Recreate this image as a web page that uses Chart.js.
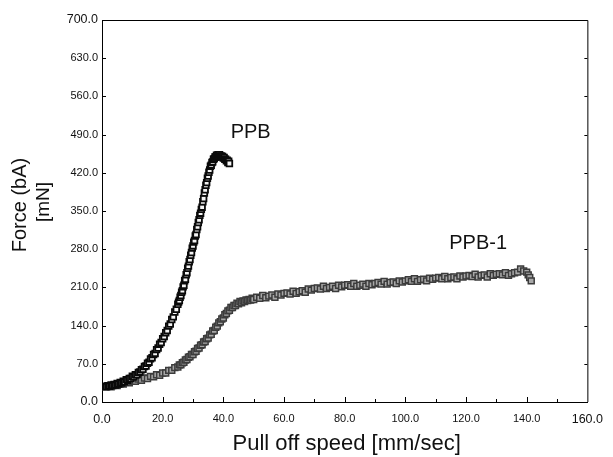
<!DOCTYPE html>
<html>
<head>
<meta charset="utf-8">
<style>
html,body{margin:0;padding:0;background:#fff;}
canvas{display:block;}
</style>
<script src="https://cdn.jsdelivr.net/npm/chart.js@4/dist/chart.umd.min.js"></script>
</head>
<body>
<canvas id="c" width="613" height="457"></canvas>
<script>
// ---- data ----
const xTickValues = [0, 20, 40, 60, 80, 100, 120, 140, 160];
const yTickValues = [0, 70, 140, 210, 280, 350, 420, 490, 560, 630, 700];
const seriesNames = ['PPB', 'PPB-1'];
const xTitle = 'Pull off speed [mm/sec]';
const yTitleLines = ['Force (bA)', '[mN]'];

const ppbSpeed = [
 1.0,1.5,2.0,2.5,3.0,3.5,4.0,4.5,5.0,5.5,6.0,6.5,7.0,7.5,8.0,8.5,9.0,9.5,10.0,10.5,
 11.0,11.5,12.0,12.5,13.0,13.5,14.0,14.5,15.0,15.5,16.0,16.5,17.0,17.5,18.0,18.5,19.0,19.5,20.0,20.5,
 21.0,21.5,22.0,22.5,23.0,23.5,24.0,24.5,25.0,
 25.25,25.5,25.75,26.0,26.25,26.5,26.75,27.0,27.25,27.5,27.75,28.0,28.25,28.5,28.75,29.0,29.25,29.5,29.75,30.0,
 30.25,30.5,30.75,31.0,31.25,31.5,31.75,32.0,32.25,32.5,32.75,33.0,33.25,33.5,33.75,34.0,34.25,34.5,34.75,35.0,
 35.25,35.5,35.75,36.0,36.25,36.5,36.75,37.0,37.25,37.5,37.75,38.0,
 38.25,38.5,38.75,39.0,39.25,39.5,39.75,40.0,40.25,40.5,40.75,41.0,41.25,41.5,41.75,42.0
];
const ppbForce = [
 29,28,30,29,31,30,32,31,34,33,36,35,38,37,41,40,43,43,47,46,
 50,50,54,55,59,60,65,66,71,73,79,81,87,89,96,99,106,109,116,120,
 127,131,139,143,151,156,165,170,179,
 183,186,192,195,201,204,211,214,222,225,233,237,245,249,257,261,269,274,282,286,
 293,296,304,307,316,321,329,334,342,346,353,357,367,373,383,389,397,402,410,414,
 421,425,432,434,439,440,445,446,449,449,452,450,
 453,450,453,450,451,450,450,447,448,445,445,442,443,439,441,437
];

const ppb1Speed = [
 1,2,3,4,5,6,7,8,9,10,11,12,13,14,15,16,17,18,19,20,21,22,23,24,25,
 25.5,26,26.5,27,27.5,28,28.5,29,29.5,30,30.5,31,31.5,32,32.5,33,33.5,34,34.5,35,
 35.5,36,36.5,37,37.5,38,38.5,39,39.5,40,40.5,41,41.5,42,42.5,43,43.5,44,44.5,45,
 45.5,46,46.5,47,47.5,48,48.5,49,49.5,50,
 51,52,53,54,55,56,57,58,59,60,61,62,63,64,65,66,67,68,69,70,
 71,72,73,74,75,76,77,78,79,80,81,82,83,84,85,86,87,88,89,90,
 91,92,93,94,95,96,97,98,99,100,101,102,103,104,105,106,107,108,109,110,
 111,112,113,114,115,116,117,118,119,120,121,122,123,124,125,126,127,128,129,130,
 131,132,133,134,135,136,137,138,139,140,140.5,141,141.5
];
const ppb1Force = [
 28,30,28,31,30,33,33,36,35,38,38,42,40,44,43,47,46,50,49,53,53,58,58,63,64,
 68,68,72,73,77,78,82,83,87,87,92,93,98,99,104,105,110,111,116,117,
 123,124,130,131,137,139,145,147,152,154,160,162,167,168,173,173,177,177,181,180,
 184,182,185,184,187,186,188,187,190,188,
 192,190,195,191,194,196,192,198,196,199,200,198,203,199,202,204,201,207,205,208,
 209,207,212,208,210,212,208,214,211,214,215,212,217,212,214,216,212,217,215,217,
 219,216,221,216,219,220,217,222,220,222,224,221,226,221,224,225,222,227,225,227,
 228,226,230,226,228,229,226,231,229,231,232,230,234,229,232,233,229,235,232,234,
 235,233,237,232,235,237,238,244,240,238,233,228,222
];

// label anchor points (data coordinates)
const labelPPB = {x: 49, y: 494};
const labelPPB1 = {x: 124, y: 291};

const FONT = '"Liberation Sans", Arial, Helvetica, sans-serif';

function toPoints(xs, ys){ return xs.map((x,i)=>({x:x, y:ys[i]})); }

const decor = {
  id: 'decor',
  afterDraw(chart){
    const ctx = chart.ctx;
    const a = chart.chartArea;
    const xs = chart.scales.x, ys = chart.scales.y;
    ctx.save();
    ctx.strokeStyle = '#000';
    ctx.lineWidth = 1;
    ctx.beginPath();
    ctx.moveTo(a.left, a.top + 0.5); ctx.lineTo(a.right + 0.5, a.top + 0.5);
    ctx.lineTo(a.right + 0.5, a.bottom);
    ctx.stroke();
    ctx.beginPath();
    for (let v = 10; v < 160; v += 10) {
      const px = Math.round(xs.getPixelForValue(v)) + 0.5;
      const len = (v % 20 === 0) ? 5 : 3;
      ctx.moveTo(px, a.bottom); ctx.lineTo(px, a.bottom - len);
    }
    yTickValues.forEach(v => {
      if (v === 0 || v === 700) return;
      const py = Math.round(ys.getPixelForValue(v)) + 0.5;
      ctx.moveTo(a.left, py); ctx.lineTo(a.left + 4, py);
      ctx.moveTo(a.right, py); ctx.lineTo(a.right - 3, py);
    });
    ctx.stroke();
    ctx.fillStyle = '#111';
    ctx.textAlign = 'center';
    ctx.textBaseline = 'middle';
    ctx.font = '20px ' + FONT;
    ctx.fillText(seriesNames[0], xs.getPixelForValue(labelPPB.x), ys.getPixelForValue(labelPPB.y));
    ctx.fillText(seriesNames[1], xs.getPixelForValue(labelPPB1.x), ys.getPixelForValue(labelPPB1.y));
    ctx.font = '22px ' + FONT;
    ctx.fillText(xTitle, (a.left + a.right) / 2 + 2, 444);
    ctx.font = '20px ' + FONT;
    ctx.translate(20, 205);
    ctx.rotate(-Math.PI / 2);
    ctx.fillText(yTitleLines[0], 0, 0);
    ctx.font = '19px ' + FONT;
    ctx.fillText(yTitleLines[1], 3, 24);
    ctx.restore();
  }
};

const endFont = {size: 12.5, family: FONT};
const midFont = {size: 11, family: FONT};

new Chart(document.getElementById('c'), {
  type: 'scatter',
  data: {
    datasets: [
      {
        label: seriesNames[0],
        data: toPoints(ppbSpeed, ppbForce),
        pointStyle: 'rect',
        pointRadius: 4,
        borderWidth: 1.8,
        borderColor: '#0a0a0a',
        backgroundColor: '#f4f4f4',
        showLine: false,
        order: 0
      },
      {
        label: seriesNames[1],
        data: toPoints(ppb1Speed, ppb1Force),
        pointStyle: 'rect',
        pointRadius: 4.2,
        borderWidth: 1.5,
        borderColor: '#3c3c3c',
        backgroundColor: '#a8a8a8',
        showLine: false,
        order: 1
      }
    ]
  },
  options: {
    responsive: false,
    animation: false,
    devicePixelRatio: 1,
    layout: {padding: {top: 20, right: 20, left: 0, bottom: 0}},
    plugins: {legend: {display: false}, tooltip: {enabled: false}},
    scales: {
      x: {
        type: 'linear', min: 0, max: 160,
        afterBuildTicks(s){ s.ticks = xTickValues.map(v => ({value: v})); },
        afterFit(s){ s.height = 55; },
        grid: {display: false, drawTicks: false},
        border: {display: true, color: '#000', width: 1},
        ticks: {
          color: '#111', padding: 10, maxRotation: 0, autoSkip: false,
          font: (c) => (c.tick && (c.tick.value === 0 || c.tick.value === 160)) ? endFont : midFont,
          callback: (v) => Number(v).toFixed(1)
        }
      },
      y: {
        type: 'linear', min: 0, max: 700,
        afterBuildTicks(s){ s.ticks = yTickValues.map(v => ({value: v})); },
        afterFit(s){ s.width = 102; },
        grid: {display: false, drawTicks: false},
        border: {display: true, color: '#000', width: 1},
        ticks: {
          color: '#111', padding: 4, autoSkip: false,
          font: (c) => (c.tick && (c.tick.value === 0 || c.tick.value === 700)) ? endFont : midFont,
          callback: (v) => Number(v).toFixed(1)
        }
      }
    }
  },
  plugins: [decor]
});
</script>
</body>
</html>
